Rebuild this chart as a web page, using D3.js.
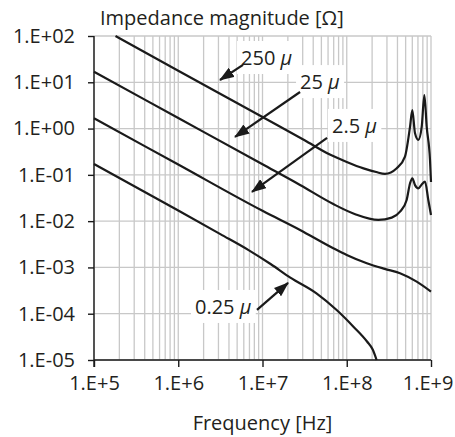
<!DOCTYPE html>
<html>
<head>
<meta charset="utf-8">
<script src="https://cdn.jsdelivr.net/npm/d3@7"></script>
<style>
  body { margin: 0; background: #fff; }
  svg { font-family: "Open Sans", sans-serif; }
</style>
</head>
<body>
<div class="canvas"></div>
<script>
// tick values and labels
const xTickValues = [1e5, 1e6, 1e7, 1e8, 1e9];
const xTickLabels = ['1.E+5', '1.E+6', '1.E+7', '1.E+8', '1.E+9'];
const yTickValues = [1e-5, 1e-4, 1e-3, 1e-2, 1e-1, 1e0, 1e1, 1e2];
const yTickLabels = ['1.E-05', '1.E-04', '1.E-03', '1.E-02', '1.E-01', '1.E+00', '1.E+01', '1.E+02'];

// series: frequency [Hz] and impedance [ohm]
const freq250 = [1.8e5, 1e6, 1e7, 3.16e7, 6.3e7, 1e8, 1.58e8, 2.24e8, 2.84e8, 3.92e8, 4.91e8, 5.64e8, 6.0e8, 6.46e8, 7.08e8, 7.76e8, 8.34e8, 8.89e8, 9.73e8, 1e9];
const z250    = [100, 17.8, 1.78, 0.56, 0.275, 0.19, 0.138, 0.115, 0.105, 0.139, 0.248, 1.1, 2.5, 0.79, 0.57, 1.1, 5.3, 1.1, 0.21, 0.07];

const freq25 = [1e5, 1e6, 1e7, 2.79e7, 6.92e7, 1.26e8, 2.37e8, 3.42e8, 4.29e8, 5.14e8, 5.64e8, 6.0e8, 6.46e8, 7.08e8, 7.76e8, 8.49e8, 9.29e8, 1e9];
const z25    = [16.9, 1.69, 0.169, 0.0605, 0.0234, 0.0141, 0.0106, 0.0119, 0.016, 0.0287, 0.0658, 0.0845, 0.06, 0.0513, 0.062, 0.0713, 0.0287, 0.0136];

const freq2p5 = [1e5, 1e6, 1e7, 2.79e7, 6.92e7, 1e8, 1.73e8, 2.82e8, 4.29e8, 6.76e8, 1e9];
const z2p5    = [1.67, 0.167, 0.0167, 0.00646, 0.0026, 0.00186, 0.00123, 0.00093, 0.00075, 0.000493, 0.0003];

const freq0p25 = [1e5, 1e6, 3.16e6, 6.76e6, 1.26e7, 2.14e7, 4.37e7, 7.59e7, 1.2e8, 1.74e8, 2.04e8, 2.26e8];
const z0p25    = [0.172, 0.017, 0.00525, 0.0024, 0.00117, 0.0006, 0.000275, 0.00012, 0.0000525, 0.0000251, 0.0000166, 0.00001];

// annotation labels: text anchor, arrow start and arrow tip in data units
const labelNames = ['250', '25', '2.5', '0.25'];
const labelAt   = [[5.56e6, 33.5], [2.79e7, 10.1], [6.68e7, 1.14], [1.58e6, 1.4e-4]];
const arrowFrom = [[5.87e6, 23.7], [2.79e7, 6.17], [5.84e7, 0.627], [8.6e6, 1.21e-4]];
const arrowTo   = [[3.13e6, 11.2], [4.72e6, 0.659], [7.5e6, 0.0428], [2.01e7, 4.62e-4]];

const series = [
    {f: freq250, z: z250},
    {f: freq25, z: z25},
    {f: freq2p5, z: z2p5},
    {f: freq0p25, z: z0p25}
];

const fontSize = 20;
const margin = {top: 36, right: 24, bottom: 77, left: 94};
const graphWidth = 455 - margin.left - margin.right;
const graphHeight = 437 - margin.top - margin.bottom;

const svg = d3.select('.canvas')
    .append('svg')
    .attr('width', 455)
    .attr('height', 437);

const graph = svg.append('g')
    .attr('transform', `translate(${margin.left}, ${margin.top})`);

// scales
const x = d3.scaleLog().domain([1e5, 1e9]).range([0, graphWidth]);
const y = d3.scaleLog().domain([1e-5, 1e2]).range([graphHeight, 0]);

// grid: every minor step on x, decades only on y
graph.append('g')
    .selectAll('line')
    .data(x.ticks())
    .join('line')
    .attr('x1', d => x(d)).attr('x2', d => x(d))
    .attr('y1', 0).attr('y2', graphHeight)
    .attr('stroke', '#c8c8c8')
    .attr('stroke-width', 1.3);

graph.append('g')
    .selectAll('line')
    .data(yTickValues)
    .join('line')
    .attr('x1', 0).attr('x2', graphWidth)
    .attr('y1', d => y(d)).attr('y2', d => y(d))
    .attr('stroke', '#c8c8c8')
    .attr('stroke-width', 1.3);

// axes
const xAxis = d3.axisBottom(x)
    .tickValues(xTickValues)
    .tickSize(7)
    .tickPadding(9)
    .tickFormat((d, i) => xTickLabels[i]);

const yAxis = d3.axisLeft(y)
    .tickValues(yTickValues)
    .tickSize(6)
    .tickPadding(13)
    .tickFormat((d, i) => yTickLabels[i]);

const xAxisGroup = graph.append('g')
    .attr('transform', `translate(0, ${graphHeight})`)
    .call(xAxis);

const yAxisGroup = graph.append('g')
    .call(yAxis);

[xAxisGroup, yAxisGroup].forEach(g => {
    g.select('.domain').attr('stroke', '#1a1a1a').attr('stroke-width', 1.4);
    g.selectAll('.tick line').attr('stroke', '#1a1a1a').attr('stroke-width', 1.4);
    g.selectAll('text')
        .attr('font-family', '"Open Sans", sans-serif')
        .attr('font-size', fontSize)
        .attr('fill', '#231f20');
});
xAxisGroup.select('.domain').attr('d', `M0,0H${graphWidth}`);
yAxisGroup.select('.domain').attr('d', `M0,0V${graphHeight + 7}`);

// keep the last x label inside the picture, like the original
xAxisGroup.selectAll('.tick text')
    .filter(d => d === 1e9)
    .attr('text-anchor', 'end')
    .attr('x', margin.right - 2);

// curves
const line = d3.line()
    .x(d => x(d[0]))
    .y(d => y(d[1]))
    .curve(d3.curveMonotoneX);

graph.append('g')
    .selectAll('path')
    .data(series)
    .join('path')
    .attr('fill', 'none')
    .attr('stroke', '#1a1a1a')
    .attr('stroke-width', 2.2)
    .attr('stroke-linejoin', 'round')
    .attr('d', s => line(s.f.map((f, i) => [f, s.z[i]])));

// arrowhead
svg.append('defs').append('marker')
    .attr('id', 'head')
    .attr('markerUnits', 'userSpaceOnUse')
    .attr('viewBox', '0 0 15 11')
    .attr('refX', 14).attr('refY', 5.5)
    .attr('markerWidth', 15).attr('markerHeight', 11)
    .attr('orient', 'auto')
    .append('path')
    .attr('d', 'M0,0L15,5.5L0,11Z')
    .attr('fill', '#1a1a1a');

// labels with white boxes
labelNames.forEach((name, i) => {
    const g = graph.append('g');
    const box = g.append('rect').attr('fill', '#fff');
    const t = g.append('text')
        .attr('x', x(labelAt[i][0]))
        .attr('y', y(labelAt[i][1]))
        .attr('dy', '0.35em')
        .attr('font-size', fontSize)
        .attr('fill', '#231f20');
    t.append('tspan').text(name + ' ');
    t.append('tspan').attr('font-style', 'italic').text('\u03bc');
    const bb = t.node().getBBox();
    box.attr('x', bb.x - 4).attr('y', bb.y - 3)
        .attr('width', bb.width + 8).attr('height', bb.height + 6);
    g.append('line')
        .attr('x1', x(arrowFrom[i][0])).attr('y1', y(arrowFrom[i][1]))
        .attr('x2', x(arrowTo[i][0])).attr('y2', y(arrowTo[i][1]))
        .attr('stroke', '#1a1a1a')
        .attr('stroke-width', 2.2)
        .attr('marker-end', 'url(#head)');
});

// titles
svg.append('text')
    .attr('x', 100)
    .attr('y', 25)
    .attr('font-size', fontSize)
    .attr('fill', '#231f20')
    .text('Impedance magnitude [\u03a9]');

svg.append('text')
    .attr('x', margin.left + graphWidth / 2)
    .attr('y', 430)
    .attr('text-anchor', 'middle')
    .attr('font-size', fontSize)
    .attr('fill', '#231f20')
    .text('Frequency [Hz]');
</script>
</body>
</html>
